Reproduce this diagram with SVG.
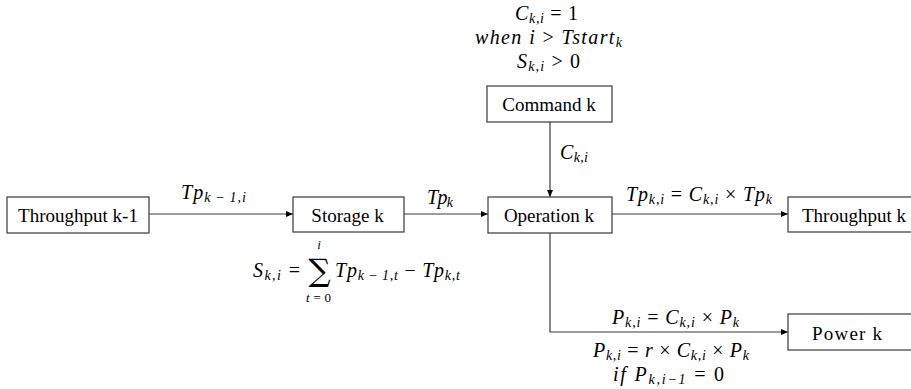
<svg xmlns="http://www.w3.org/2000/svg" width="911" height="389" viewBox="0 0 911 389">
<style>
.box{fill:#fff;stroke:#3a3a3a;stroke-width:1.2}
.lbl{font-family:'Liberation Serif','Times New Roman',serif;font-size:19px;fill:#000;text-anchor:middle}
.m{font-family:'Liberation Serif','Times New Roman',serif;font-size:20px;fill:#000;font-style:italic}
.n{font-style:normal}
.s{font-size:14px}
.ln{stroke:#3a3a3a;stroke-width:1.2;fill:none}
</style>
<defs>
<marker id="ah" markerWidth="8" markerHeight="8" refX="7" refY="4" orient="auto" markerUnits="userSpaceOnUse">
<path d="M0,1 L7,4 L0,7 Z" fill="#000"/>
</marker>
</defs>
<rect width="911" height="389" fill="#fff"/>
<g id="connectors">
<line class="ln" x1="149" y1="214" x2="293" y2="214" marker-end="url(#ah)"/>
<line class="ln" x1="404" y1="214" x2="488" y2="214" marker-end="url(#ah)"/>
<line class="ln" x1="550" y1="122" x2="550" y2="197" marker-end="url(#ah)"/>
<line class="ln" x1="612" y1="214" x2="788" y2="214" marker-end="url(#ah)"/>
<polyline class="ln" points="550,233 550,332 788,332" marker-end="url(#ah)"/>
</g>
<g id="throughput-k-1">
<rect class="box" x="7" y="197" width="142" height="36"/>
<text class="lbl" x="78" y="222">Throughput k-1</text>
</g>
<g id="storage-k">
<rect class="box" x="293" y="197" width="111" height="35"/>
<text class="lbl" x="347.5" y="222">Storage k</text>
</g>
<g id="operation-k">
<rect class="box" x="488" y="197" width="124" height="36"/>
<text class="lbl" x="549" y="222">Operation k</text>
</g>
<g id="command-k">
<rect class="box" x="487" y="86" width="125" height="36"/>
<text class="lbl" x="549" y="111">Command k</text>
</g>
<g id="throughput-k">
<rect class="box" x="788" y="197" width="130" height="35"/>
<text class="lbl" x="802" y="222" style="text-anchor:start">Throughput k</text>
</g>
<g id="power-k">
<rect class="box" x="788" y="314" width="130" height="36"/>
<text class="lbl" x="812" y="340" style="text-anchor:start" textLength="70" lengthAdjust="spacing">Power k</text>
</g>
<g id="labels">
<text class="m" x="181" y="199" textLength="65" lengthAdjust="spacing">Tp<tspan class="s" dy="3">k&#8201;−&#8201;1,i</tspan></text>
<text class="m" x="427" y="204" textLength="26" lengthAdjust="spacing">Tp<tspan class="s" dy="3">k</tspan></text>
<text class="m" x="560" y="159" textLength="28" lengthAdjust="spacing">C<tspan class="s" dy="3">k,i</tspan></text>
<text class="m" x="515" y="20" textLength="63" lengthAdjust="spacing">C<tspan class="s" dy="3">k,i</tspan><tspan class="n" dy="-3">&#160;=&#160;1</tspan></text>
<text class="m" x="475" y="44" textLength="147" lengthAdjust="spacing">when i<tspan class="n">&#160;&gt;&#160;</tspan>Tstart<tspan class="s" dy="3">k</tspan></text>
<text class="m" x="517" y="68" textLength="63" lengthAdjust="spacing">S<tspan class="s" dy="3">k,i</tspan><tspan class="n" dy="-3">&#160;&gt;&#160;0</tspan></text>
<text class="m" x="626" y="201" textLength="146" lengthAdjust="spacing">Tp<tspan class="s" dy="3">k,i</tspan><tspan class="n" dy="-3">&#160;=&#160;</tspan>C<tspan class="s" dy="3">k,i</tspan><tspan class="n" dy="-3">&#160;×&#160;</tspan>Tp<tspan class="s" dy="3">k</tspan></text>
<text class="m" x="612" y="324" textLength="127" lengthAdjust="spacing">P<tspan class="s" dy="3">k,i</tspan><tspan class="n" dy="-3">&#160;=&#160;</tspan>C<tspan class="s" dy="3">k,i</tspan><tspan class="n" dy="-3">&#160;×&#160;</tspan>P<tspan class="s" dy="3">k</tspan></text>
<text class="m" x="593" y="357" textLength="156" lengthAdjust="spacing">P<tspan class="s" dy="3">k,i</tspan><tspan class="n" dy="-3">&#160;=&#160;</tspan>r<tspan class="n">&#160;×&#160;</tspan>C<tspan class="s" dy="3">k,i</tspan><tspan class="n" dy="-3">&#160;×&#160;</tspan>P<tspan class="s" dy="3">k</tspan></text>
<text class="m" x="613" y="381" textLength="111" lengthAdjust="spacing">if&#160;P<tspan class="s" dy="3">k,i−1</tspan><tspan class="n" dy="-3">&#160;=&#160;0</tspan></text>
<text class="m" x="253" y="277" textLength="47" lengthAdjust="spacing">S<tspan class="s" dy="3">k,i</tspan><tspan class="n" dy="-3">&#160;=</tspan></text>
<text class="m" x="319" y="249" style="font-size:13px;text-anchor:middle">i</text>
<text x="319.5" y="281" style="font-family:'DejaVu Serif',serif;font-size:31px;text-anchor:middle">∑</text>
<text class="m" x="306" y="302" style="font-size:13px" textLength="25" lengthAdjust="spacing">t<tspan class="n">=0</tspan></text>
<text class="m" x="335" y="277" textLength="125" lengthAdjust="spacing">Tp<tspan class="s" dy="3">k&#8201;−&#8201;1,t</tspan><tspan class="n" dy="-3">&#160;−&#160;</tspan>Tp<tspan class="s" dy="3">k,t</tspan></text>
</g>
</svg>
